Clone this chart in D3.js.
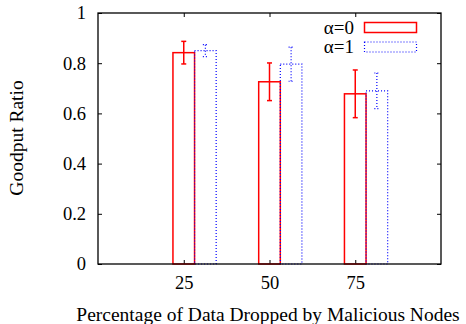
<!DOCTYPE html>
<html>
<head>
<meta charset="utf-8">
<script src="https://cdn.jsdelivr.net/npm/d3@7"></script>
<style>
  body { margin: 0; background: #fff; }
  text { font-family: "Liberation Serif", "DejaVu Serif", serif; }
</style>
</head>
<body>
<svg id="chart" width="466" height="324"></svg>
<script>
"use strict";

// data
var categories = [25, 50, 75];
var alpha0 = [0.842, 0.726, 0.678];
var alpha0Err = [0.045, 0.075, 0.095];
var alpha1 = [0.850, 0.796, 0.690];
var alpha1Err = [0.024, 0.068, 0.071];
var seriesNames = ["\u03b1=0", "\u03b1=1"];
var yTicks = [0, 0.2, 0.4, 0.6, 0.8, 1];

var svg = d3.select("#chart");

var plotLeft = 98, plotRight = 441, plotTop = 13, plotBottom = 264;
var x = d3.scaleLinear().domain([0, 100]).range([plotLeft, plotRight]);
var y = d3.scaleLinear().domain([0, 1]).range([plotBottom, plotTop]);
var barW = 6.3;

var series = [
	{ name: seriesNames[0], values: alpha0, err: alpha0Err, color: "#ff0000", dash: null, offset: 0, width: 1.5 },
	{ name: seriesNames[1], values: alpha1, err: alpha1Err, color: "#0000ff", dash: "1,2", offset: barW, width: 1.2 }
];

//
// Axes
//
var tickLen = 4;
svg.append("g").attr("transform", "translate(" + plotLeft + ",0)")
	.call(d3.axisLeft(y).tickValues(yTicks).tickFormat(d3.format("~g")).tickSizeInner(-tickLen).tickSizeOuter(0).tickPadding(12));
svg.append("g").attr("transform", "translate(" + plotRight + ",0)")
	.call(d3.axisRight(y).tickValues(yTicks).tickFormat("").tickSizeInner(-tickLen).tickSizeOuter(0));
svg.append("g").attr("transform", "translate(0," + plotBottom + ")")
	.call(d3.axisBottom(x).tickValues(categories).tickSizeInner(-tickLen).tickSizeOuter(0).tickPadding(12));
svg.append("g").attr("transform", "translate(0," + plotTop + ")")
	.call(d3.axisTop(x).tickValues(categories).tickFormat("").tickSizeInner(-tickLen).tickSizeOuter(0));

svg.selectAll(".domain").remove();
svg.selectAll("g").attr("font-family", null);
svg.selectAll(".tick line").attr("stroke", "#000").attr("stroke-width", 1);
svg.selectAll(".tick text").attr("font-size", 18.5).attr("fill", "#000");

//
// Bars
//
series.forEach(function(s) {
	var g = svg.append("g");
	g.selectAll("rect")
		.data(categories)
		.enter()
		.append("rect")
		.attr("x", function(d) { return x(d + s.offset - barW / 2); })
		.attr("y", function(d, i) { return y(s.values[i]); })
		.attr("width", x(barW) - x(0))
		.attr("height", function(d, i) { return plotBottom - y(s.values[i]); })
		.attr("fill", "none")
		.attr("stroke", s.color)
		.attr("stroke-width", s.width)
		.attr("stroke-dasharray", s.dash);

	// error bars
	var eb = g.selectAll(".err")
		.data(categories)
		.enter()
		.append("g")
		.attr("class", "err");
	eb.append("line")
		.attr("x1", function(d) { return x(d + s.offset); })
		.attr("x2", function(d) { return x(d + s.offset); })
		.attr("y1", function(d, i) { return y(s.values[i] + s.err[i]); })
		.attr("y2", function(d, i) { return y(s.values[i] - s.err[i]); });
	[1, -1].forEach(function(sign) {
		eb.append("line")
			.attr("x1", function(d) { return x(d + s.offset) - 2.5; })
			.attr("x2", function(d) { return x(d + s.offset) + 2.5; })
			.attr("y1", function(d, i) { return y(s.values[i] + sign * s.err[i]); })
			.attr("y2", function(d, i) { return y(s.values[i] + sign * s.err[i]); });
	});
	eb.selectAll("line")
		.attr("stroke", s.color)
		.attr("stroke-width", s.width)
		.attr("stroke-dasharray", s.dash);
});

//
// Frame
//
svg.append("rect")
	.attr("x", plotLeft).attr("y", plotTop)
	.attr("width", plotRight - plotLeft).attr("height", plotBottom - plotTop)
	.attr("fill", "none").attr("stroke", "#000").attr("stroke-width", 1.3);

//
// Legend
//
var legend = svg.append("g");
series.forEach(function(s, i) {
	var ly = 27.5 + i * 19.5;
	legend.append("text")
		.attr("x", 354).attr("y", ly + 6)
		.attr("text-anchor", "end")
		.attr("font-size", 19)
		.text(s.name);
	legend.append("rect")
		.attr("x", 364.5).attr("y", ly - 5)
		.attr("width", 52).attr("height", 10)
		.attr("fill", "none")
		.attr("stroke", s.color)
		.attr("stroke-width", s.width)
		.attr("stroke-dasharray", s.dash);
});

//
// Axis titles
//
svg.append("text")
	.attr("x", 268).attr("y", 321)
	.attr("text-anchor", "middle")
	.attr("font-size", 19.5)
	.text("Percentage of Data Dropped by Malicious Nodes");

svg.append("text")
	.attr("transform", "translate(23,138) rotate(-90)")
	.attr("text-anchor", "middle")
	.attr("font-size", 19.5)
	.text("Goodput Ratio");
</script>
</body>
</html>
